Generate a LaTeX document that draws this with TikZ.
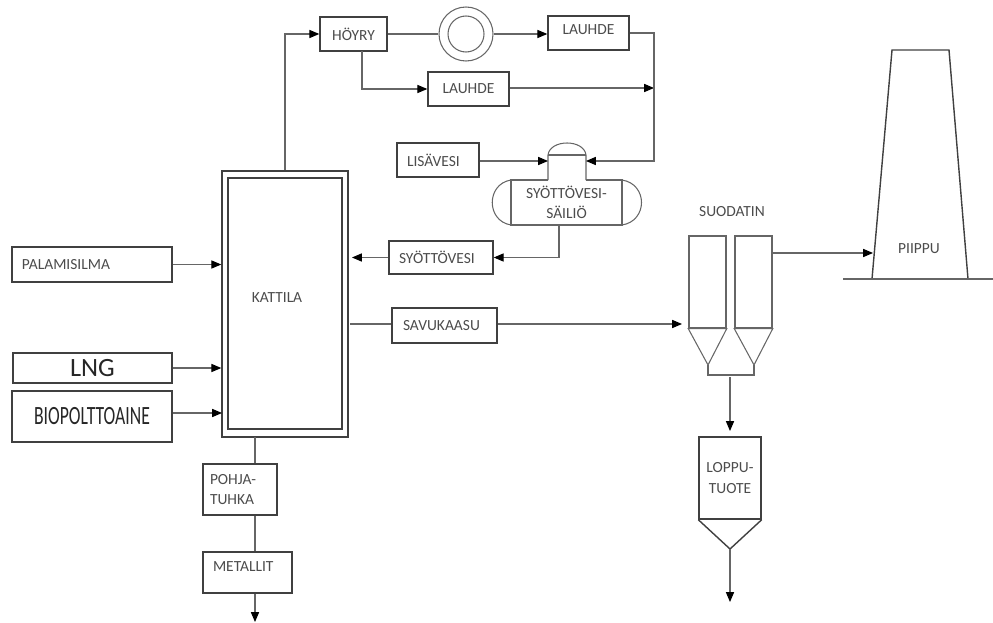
\documentclass[tikz,border=0pt]{standalone}
\usepackage{fontspec}
\setmainfont{Carlito}
\usepackage{tikz}
\usetikzlibrary{arrows.meta}

\begin{document}
\begin{tikzpicture}[
      x=0.2mm, y=-0.2mm,
      box/.style={draw=black!75, line width=0.8pt, align=center, inner sep=0pt, text=black!70, font=\fontsize{8.8}{11.5}\selectfont},
      tag/.style={inner sep=0pt, align=center, text=black!70, font=\fontsize{8.8}{11.5}\selectfont},
      outline/.style={draw=black!75, line width=0.8pt},
      link/.style={draw=black!60, line width=0.6pt},
      arrow/.style={link, -{Triangle[length=5.6pt,width=4.6pt,color=black]}}
      ]
      \useasboundingbox (0,0) rectangle (993,623);

      % Nodes
      \node (hoyry) [box, minimum width=13.4mm, minimum height=6.8mm] at (353.5,34) {HÖYRY};
      \node (turbo) [circle, draw=black!60, line width=0.6pt, minimum size=10.8mm, inner sep=0pt] at (466,34) {};
      \node (turboin) [circle, draw=black!60, line width=0.6pt, minimum size=7.2mm, inner sep=0pt] at (466,34) {};
      \node (lauhdeA) [box, minimum width=16.2mm, minimum height=6.8mm, text depth=1.2mm] at (588.5,33) {LAUHDE};
      \node (lauhdeB) [box, minimum width=16.2mm, minimum height=6.8mm] at (468.5,89) {LAUHDE};
      \node (lisavesi) [box, minimum width=16.4mm, minimum height=6.8mm, text width=12.4mm, align=left] at (438,160) {LISÄVESI};
      \node (sailio) [tag] at (566.5,202.5) {SYÖTTÖVESI-\\SÄILIÖ};
      \node (syotto) [box, minimum width=20.8mm, minimum height=6.6mm, text width=16.8mm, align=left] at (441,257.5) {SYÖTTÖVESI};
      \node (palami) [box, minimum width=32mm, minimum height=7mm, text width=28mm, align=left] at (92,264.5) {PALAMISILMA};
      \node (lng) [box, minimum width=31.8mm, minimum height=6mm, text=black!85, font=\fontsize{15}{15}\selectfont] at (92.5,368) {LNG};
      \node (bio) [box, minimum width=32mm, minimum height=10.2mm, text=black!85, font=\fontsize{15}{15}\selectfont] at (92,416.5) {\scalebox{0.67}[1]{BIOPOLTTOAINE}};
      \node (kattila) [box, minimum width=25.2mm, minimum height=53.2mm] at (285,304) {};
      \node (kattilain) [box, minimum width=22.8mm, minimum height=50.2mm] at (285,303.5) {};
      \node (kattilatxt) [tag] at (277,298) {KATTILA};
      \node (savu) [box, minimum width=21mm, minimum height=7mm, text width=16.6mm, align=left] at (444.5,325.5) {SAVUKAASU};
      \node (pohja) [box, minimum width=14.8mm, minimum height=10.2mm, text width=12mm, align=left] at (240,489.5) {POHJA-\\TUHKA};
      \node (metalli) [box, minimum width=17.8mm, minimum height=8.2mm, text depth=2.2mm, text width=13.8mm, align=left] at (247.5,572.5) {METALLIT};
      \node (suodatin) [tag] at (732,212) {SUODATIN};
      \node (suodA) [box, draw=black!60, minimum width=7.4mm, minimum height=18.4mm] at (707.5,282) {};
      \node (suodB) [box, draw=black!60, minimum width=7.4mm, minimum height=18.4mm] at (753.5,282) {};
      \node (loppu) [box, minimum width=12.4mm, minimum height=16.4mm] at (730,478) {LOPPU-\\TUOTE};
      \node (piippu) [tag] at (919,249) {PIIPPU};

      % Points on the pipes
      \coordinate (hoyryulos) at (362,51);
      \coordinate (kulmaA) at (654,33);
      \coordinate (kulmaB) at (654,161);
      \coordinate (kulmaC) at (654,88);
      \coordinate (kupuL) at (548,161);
      \coordinate (kupuR) at (586,161);
      \coordinate (sailioulos) at (559,225);
      \coordinate (kattilaC) at (352,257.5);
      \coordinate (savusisaan) at (350,324);
      \coordinate (savuulos) at (682,324);
      \coordinate (biotulo) at (222,413);
      \coordinate (pohjatulo) at (255,437);
      \coordinate (tuhkaulos) at (255,622);
      \coordinate (kartioA) at (708,365);
      \coordinate (kartioB) at (754,365);
      \coordinate (keruu) at (730,377);
      \coordinate (keruutulo) at (730,431);
      \coordinate (loppukarki) at (730,549);
      \coordinate (loppuulos) at (730,602);
      \coordinate (savupiippu) at (873,253);

      % Tank and dome
      \draw [link] (548,180) -- (548,155) .. controls (550,139) and (584,139) .. (586,155) -- (586,180);
      \draw [link] (548,155) -- (586,155);
      \draw [link] (548,180) -- (511,180) -- (511,225) -- (622,225) -- (622,180) -- (586,180);
      \draw [link] (511,180) .. controls (486,184) and (486,221) .. (511,225);
      \draw [link] (622,180) .. controls (648,184) and (648,221) .. (622,225);

      % Hoppers and stack
      \draw [link] (suodA.south west) -- (suodA.south east) -- (kartioA) -- cycle;
      \draw [link] (suodB.south west) -- (suodB.south east) -- (kartioB) -- cycle;
      \draw [link] (kartioA) -- ++(0,10) -| (kartioB);
      \draw [outline] (loppu.south west) -- (loppukarki) -- (loppu.south east);
      \draw [outline] (872,279) -- (892,50) -- (949,50) -- (968,279);
      \draw [link] (843,279) -- (993,279);

      % Arrows
      \draw [arrow] (kattila.north) |- (hoyry.west);
      \draw [link] (hoyry) -- (turbo);
      \draw [arrow] (turbo) -- (lauhdeA.west |- turbo);
      \draw [arrow] (hoyryulos) |- (lauhdeB.west);
      \draw [arrow] (lauhdeB.east |- kulmaC) -- (kulmaC);
      \draw [arrow] (lauhdeA.east) -- (kulmaA) -- (kulmaB) -- (kupuR);
      \draw [arrow] (lisavesi.east |- kupuL) -- (kupuL);
      \draw [arrow] (sailioulos) |- (syotto.east);
      \draw [arrow] (syotto) -- (kattilaC);
      \draw [arrow] (palami) -- (palami -| kattila.west);
      \draw [arrow] (lng) -- (lng -| kattila.west);
      \draw [arrow] (biotulo -| bio.east) -- (biotulo);
      \draw [link] (savusisaan) -- (savusisaan -| savu.west);
      \draw [arrow] (savu.east |- savuulos) -- (savuulos);
      \draw [link] (pohjatulo) -- (pohjatulo |- pohja.north);
      \draw [link] (pohjatulo |- pohja.south) -- (pohjatulo |- metalli.north);
      \draw [arrow] (pohjatulo |- metalli.south) -- (tuhkaulos);
      \draw [arrow] (keruu) -- (keruutulo);
      \draw [arrow] (loppukarki) -- (loppuulos);
      \draw [arrow] (suodB.east |- savupiippu) -- (savupiippu);

    \end{tikzpicture}
\end{document}
